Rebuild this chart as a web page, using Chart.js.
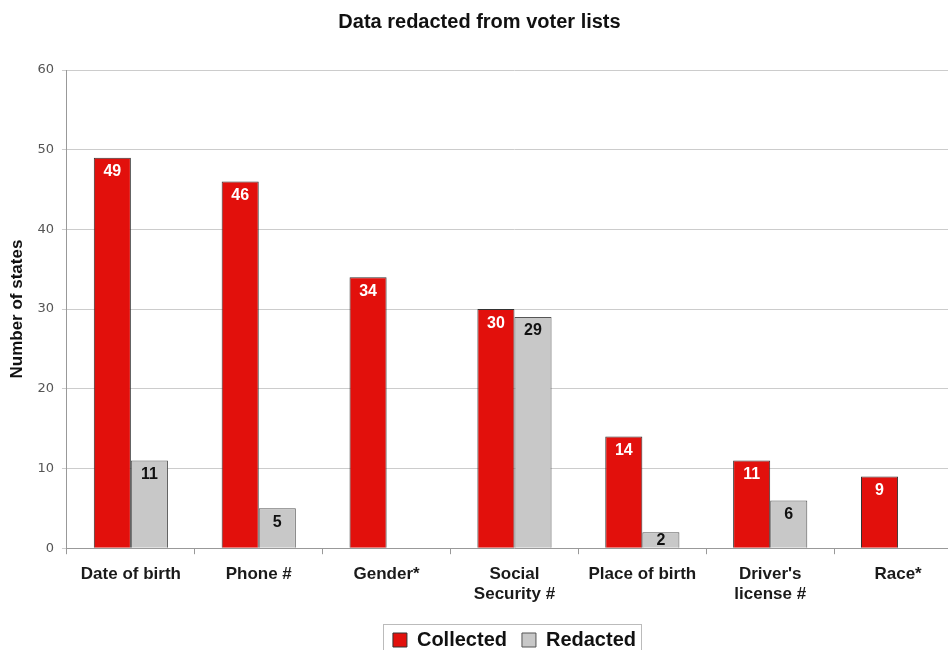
<!DOCTYPE html>
<html>
<head>
<meta charset="utf-8">
<script src="https://cdn.jsdelivr.net/npm/chart.js@4.4.1/dist/chart.umd.min.js"></script>
<style>
  html, body { margin: 0; padding: 0; background: #fff; overflow: hidden; }
  #wrap { width: 962px; height: 660px; }
</style>
</head>
<body>
<div id="wrap"><canvas id="voterChart"></canvas></div>
<script>
var categories = ['Date of birth', 'Phone #', 'Gender*', ['Social', 'Security #'], 'Place of birth', ["Driver's", 'license #'], 'Race*'];
var collected = [49, 46, 34, 30, 14, 11, 9];
var redacted = [11, 5, null, 29, 2, 6, null];
var yTicks = [0, 10, 20, 30, 40, 50, 60];

var fontFam = '"Liberation Sans", Arial, Helvetica, sans-serif';

// values written inside the top of each bar
var barLabels = {
    id: 'barLabels',
    afterDatasetsDraw: function (chart) {
        var ctx = chart.ctx;
        ctx.save();
        ctx.font = 'bold 16px ' + fontFam;
        ctx.textAlign = 'center';
        ctx.textBaseline = 'middle';
        chart.data.datasets.forEach(function (ds, i) {
            var meta = chart.getDatasetMeta(i);
            meta.data.forEach(function (bar, j) {
                if (ds.data[j] == null) return;
                var y = Math.min(bar.y + 14, (bar.y + bar.base) / 2 + 1);
                ctx.fillStyle = i == 0 ? '#ffffff' : '#111111';
                ctx.fillText(ds.data[j], bar.x, y);
            });
        });
        ctx.restore();
    }
};

// thin frame round the legend items, and title nudged to the page centre
var legendFrame = {
    id: 'legendFrame',
    afterLayout: function (chart) {
        var t = chart.titleBlock;
        if (t) { t.left -= 5; t.right -= 5; }
    },
    afterDraw: function (chart) {
        var lg = chart.legend;
        if (!lg || !lg.legendHitBoxes || !lg.legendHitBoxes.length) return;
        var boxes = lg.legendHitBoxes;
        var first = boxes[0], last = boxes[boxes.length - 1];
        var midY = first.top + first.height / 2;
        var x0 = Math.round(first.left - 10), x1 = Math.round(last.left + last.width + 5);
        var ctx = chart.ctx;
        ctx.save();
        ctx.strokeStyle = '#bbbbbb';
        ctx.lineWidth = 1;
        ctx.strokeRect(x0 + 0.5, Math.round(midY - 16) + 0.5, x1 - x0, 31);
        ctx.restore();
    }
};

var chartdata = {
    labels: categories,
    datasets: [
        {
            label: 'Collected',
            backgroundColor: '#e2100c',
            borderColor: '#333333',
            borderWidth: 1,
            data: collected
        },
        {
            label: 'Redacted',
            backgroundColor: '#c8c8c8',
            borderColor: '#555555',
            borderWidth: 1,
            data: redacted
        }
    ]
};

new Chart(document.getElementById('voterChart'), {
    type: 'bar',
    data: chartdata,
    plugins: [barLabels, legendFrame],
    options: {
        responsive: true,
        maintainAspectRatio: false,
        animation: false,
        layout: { padding: { left: 7, right: 0, top: 8, bottom: 0 } },
        datasets: {
            bar: { categoryPercentage: 0.58, barPercentage: 1.0 }
        },
        plugins: {
            title: {
                display: true,
                text: 'Data redacted from voter lists',
                color: '#111',
                font: { family: fontFam, size: 20, weight: 'bold' },
                padding: { top: 2, bottom: 36 }
            },
            legend: {
                position: 'bottom',
                fullSize: false,
                labels: {
                    color: '#111',
                    font: { family: fontFam, size: 20, weight: 'bold' },
                    boxWidth: 14,
                    boxHeight: 14,
                    padding: 15
                }
            },
            tooltip: { enabled: false }
        },
        scales: {
            x: {
                grid: { drawOnChartArea: false, drawTicks: true, tickLength: 6, color: '#999' },
                border: { color: '#999' },
                ticks: {
                    color: '#1a1a1a',
                    font: { family: fontFam, size: 17, weight: 'bold' },
                    maxRotation: 0,
                    padding: 10
                }
            },
            y: {
                min: 0,
                max: 60,
                afterBuildTicks: function (axis) {
                    axis.ticks = yTicks.map(function (v) { return { value: v }; });
                },
                grid: { color: '#cccccc', tickLength: 5 },
                border: { color: '#999' },
                ticks: {
                    color: '#555',
                    font: { family: '"DejaVu Sans", Verdana, sans-serif', size: 13 },
                    padding: 8
                },
                title: {
                    display: true,
                    text: 'Number of states',
                    color: '#111',
                    font: { family: fontFam, size: 17, weight: 'bold' },
                    padding: { top: 0, bottom: 2 }
                }
            }
        }
    }
});
</script>
</body>
</html>
